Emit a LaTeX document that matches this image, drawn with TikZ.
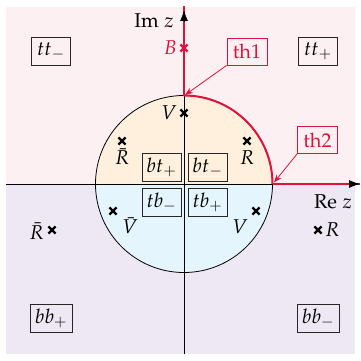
\documentclass[tikz,border=0pt]{standalone}
\usepackage{mathpazo}
\usetikzlibrary{arrows.meta}
\definecolor{pinkbg}{RGB}{253,240,243}
\definecolor{lavbg}{RGB}{238,232,244}
\definecolor{orbg}{RGB}{254,240,221}
\definecolor{blbg}{RGB}{229,245,253}
\definecolor{crim}{RGB}{220,20,60}
\tikzset{
  every node/.style={font=\fontsize{20}{23}\selectfont, inner sep=0pt},
  lbox/.style={draw=black!85, line width=0.9pt, minimum width=39pt, minimum height=28pt},
  thbox/.style={draw=crim, line width=0.9pt, text=crim, minimum width=40pt, minimum height=27pt},
  axis/.style={line width=0.8pt, draw=black},
  tip/.style={-{Latex[length=11pt,width=8pt]}},
  redln/.style={draw=crim, line width=2pt},
  thar/.style={draw=crim, line width=0.8pt, -{Stealth[length=8pt,width=6pt]}},
  xmark/.pic={\draw[line width=2.2pt] (-3.6,-3.6)--(3.6,3.6) (-3.6,3.6)--(3.6,-3.6);},
  xmarkr/.pic={\draw[line width=2.2pt, crim] (-3.6,-3.6)--(3.6,3.6) (-3.6,3.6)--(3.6,-3.6);}
}
\begin{document}
\begin{tikzpicture}[x=1pt,y=-1pt]
\useasboundingbox (0,0) rectangle (360,361);
% backgrounds
\fill[pinkbg] (6,7) rectangle (355,184);
\fill[lavbg] (6,184) rectangle (355,354);
\coordinate (O) at (184,184);
\fill[orbg] (95.5,184) arc (180:360:88.5) -- cycle;
\fill[blbg] (95.5,184) arc (180:0:88.5) -- cycle;
\draw[line width=0.8pt] (O) circle (88.5);
% axes
\coordinate (xl) at (6,184);
\coordinate (xr) at (360,184);
\coordinate (yb) at (184,354);
\coordinate (yt) at (184,10);
\coordinate (ctop) at (184,95.5);
\coordinate (cright) at (272.5,184);
\draw[axis] (xl) -- (xr);
\draw[axis] (yb) -- (yt);
% red contour
\draw[redln] (184,6) -- (ctop);
\draw[redln] (ctop) arc (-90:0:88.5);
\draw[redln] (cright) -- (xr);
\draw[axis,tip] (184,21) -- (yt);
\draw[axis,tip] (349,184) -- (xr);
% axis labels
\node (im) at (154,21) {$\mathrm{Im}\;z$};
\node (re) at (333,202) {$\mathrm{Re}\;z$};
% boxes
\node[lbox] (ttm) at (51,51) {$tt_-$};
\node[lbox] (ttp) at (318,51) {$tt_+$};
\node[lbox,minimum width=42pt] (bbp) at (51,318.5) {$bb_+$};
\node[lbox,minimum width=42pt] (bbm) at (318,318.5) {$bb_-$};
\node[lbox] (btp) at (161.5,167) {$bt_+$};
\node[lbox] (btm) at (207.5,167) {$bt_-$};
\node[lbox] (tbm) at (161.5,202.5) {$tb_-$};
\node[lbox] (tbp) at (207.5,202.5) {$tb_+$};
% th boxes
\node[thbox] (th1) at (247,51.5) {$\mathrm{th1}$};
\node[thbox] (th2) at (317.5,140) {$\mathrm{th2}$};
\draw[thar] (th1.south west) -- (185,95);
\draw[thar] (th2.south west) -- (274,182.5);
% marks
\pic at (184,48) {xmarkr};
\node[text=crim, anchor=east] (lB) at (177,48) {$B$};
\pic at (184,113) {xmark};
\node[anchor=east] (lV1) at (177,113) {$V$};
\pic at (122,141) {xmark};
\node[anchor=north] (lRb1) at (122,148) {$\bar R$};
\pic at (247,141) {xmark};
\node[anchor=north] (lR1) at (247,150) {$R$};
\pic at (113,211) {xmark};
\node[anchor=north] (lVb) at (130,217) {$\bar V$};
\pic at (256,211) {xmark};
\node[anchor=north] (lV2) at (240,219) {$V$};
\pic at (52,230) {xmark};
\node[anchor=east] (lRb2) at (44,231) {$\bar R$};
\pic at (318,230) {xmark};
\node[anchor=west] (lR2) at (325,230) {$R$};
\end{tikzpicture}
\end{document}
